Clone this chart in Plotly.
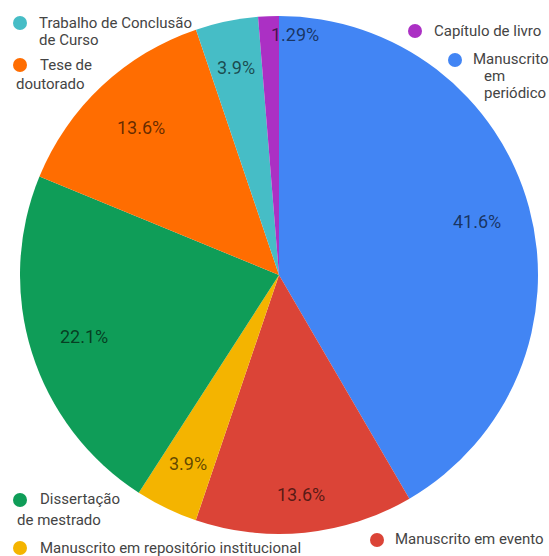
import math
import plotly.graph_objects as go

# Publication types and their share of the total (%)
categories = [
    "Manuscrito em periódico",
    "Manuscrito em evento",
    "Manuscrito em repositório institucional",
    "Dissertação de mestrado",
    "Tese de doutorado",
    "Trabalho de Conclusão de Curso",
    "Capítulo de livro",
]
shares = [41.6, 13.6, 3.9, 22.1, 13.6, 3.9, 1.29]
colors = ["#4285F4", "#DB4437", "#F4B400", "#0F9D58", "#FF6D01", "#46BDC6", "#AB30C4"]

# Canvas and pie geometry (pixels)
W, H = 549, 556
CX, CY, R = 279, 275, 259

FONT = "Roboto, Arial, sans-serif"
TEXT_COLOR = "#444444"
PCT_COLOR = "rgba(0,0,0,0.62)"

# Radial position (fraction of radius) and anchor of each percentage label
label_radius = [0.79, 0.85, 0.81, 0.79, 0.78, 0.82, 0.93]
label_anchor = ["center"] * 6 + ["left"]

# Legend entries placed around the pie: dot centre and wrapped text lines
legend_spec = [
    ((455, 60), [("Manuscrito", 472, 59), ("em", 483, 76), ("periódico", 483, 93)]),
    ((377, 540), [("Manuscrito em evento", 394, 539)]),
    ((20, 548), [("Manuscrito em repositório institucional", 39, 548)]),
    ((20, 500), [("Dissertação", 39, 499), ("de mestrado", 16, 520)]),
    ((20, 65), [("Tese de", 39, 65), ("doutorado", 15, 84)]),
    ((20, 23), [("Trabalho de Conclusão", 38, 23), ("de Curso", 38, 40)]),
    ((415, 31), [("Capítulo de livro", 433, 31)]),
]

fig = go.Figure()

fig.add_trace(go.Pie(
    labels=categories,
    values=shares,
    sort=False,
    direction="clockwise",
    rotation=0,
    marker=dict(colors=colors, line=dict(width=0)),
    textinfo="none",
    hoverinfo="label+percent",
    showlegend=False,
    domain=dict(
        x=[(CX - R) / W, (CX + R) / W],
        y=[(H - CY - R) / H, (H - CY + R) / H],
    ),
))

# Legend dots
fig.add_trace(go.Scatter(
    x=[d[0][0] for d in legend_spec],
    y=[d[0][1] for d in legend_spec],
    mode="markers",
    marker=dict(size=14, color=colors, line=dict(width=0)),
    hoverinfo="skip",
    showlegend=False,
))

annotations = []

# Percentage labels at each slice's mid-angle
total = sum(shares)
cum = 0.0
for v, fr, anc in zip(shares, label_radius, label_anchor):
    mid = math.radians((cum + v / 2) / total * 360)
    cum += v
    annotations.append(dict(
        x=CX + fr * R * math.sin(mid),
        y=CY - fr * R * math.cos(mid),
        xref="x", yref="y",
        text=f"{v:g}%",
        showarrow=False,
        xanchor=anc, yanchor="middle",
        font=dict(family=FONT, size=18, color=PCT_COLOR),
    ))

# Legend text
for _, lines in legend_spec:
    for txt, lx, ly in lines:
        annotations.append(dict(
            x=lx, y=ly, xref="x", yref="y",
            text=txt, showarrow=False,
            xanchor="left", yanchor="middle",
            borderpad=0,
            font=dict(family=FONT, size=15, color=TEXT_COLOR),
        ))

fig.update_layout(
    width=W, height=H,
    margin=dict(l=0, r=0, t=0, b=0),
    paper_bgcolor="white",
    plot_bgcolor="white",
    showlegend=False,
    xaxis=dict(range=[0, W], visible=False, fixedrange=True),
    yaxis=dict(range=[H, 0], visible=False, fixedrange=True),
    annotations=annotations,
)

fig.write_html("out.html")
